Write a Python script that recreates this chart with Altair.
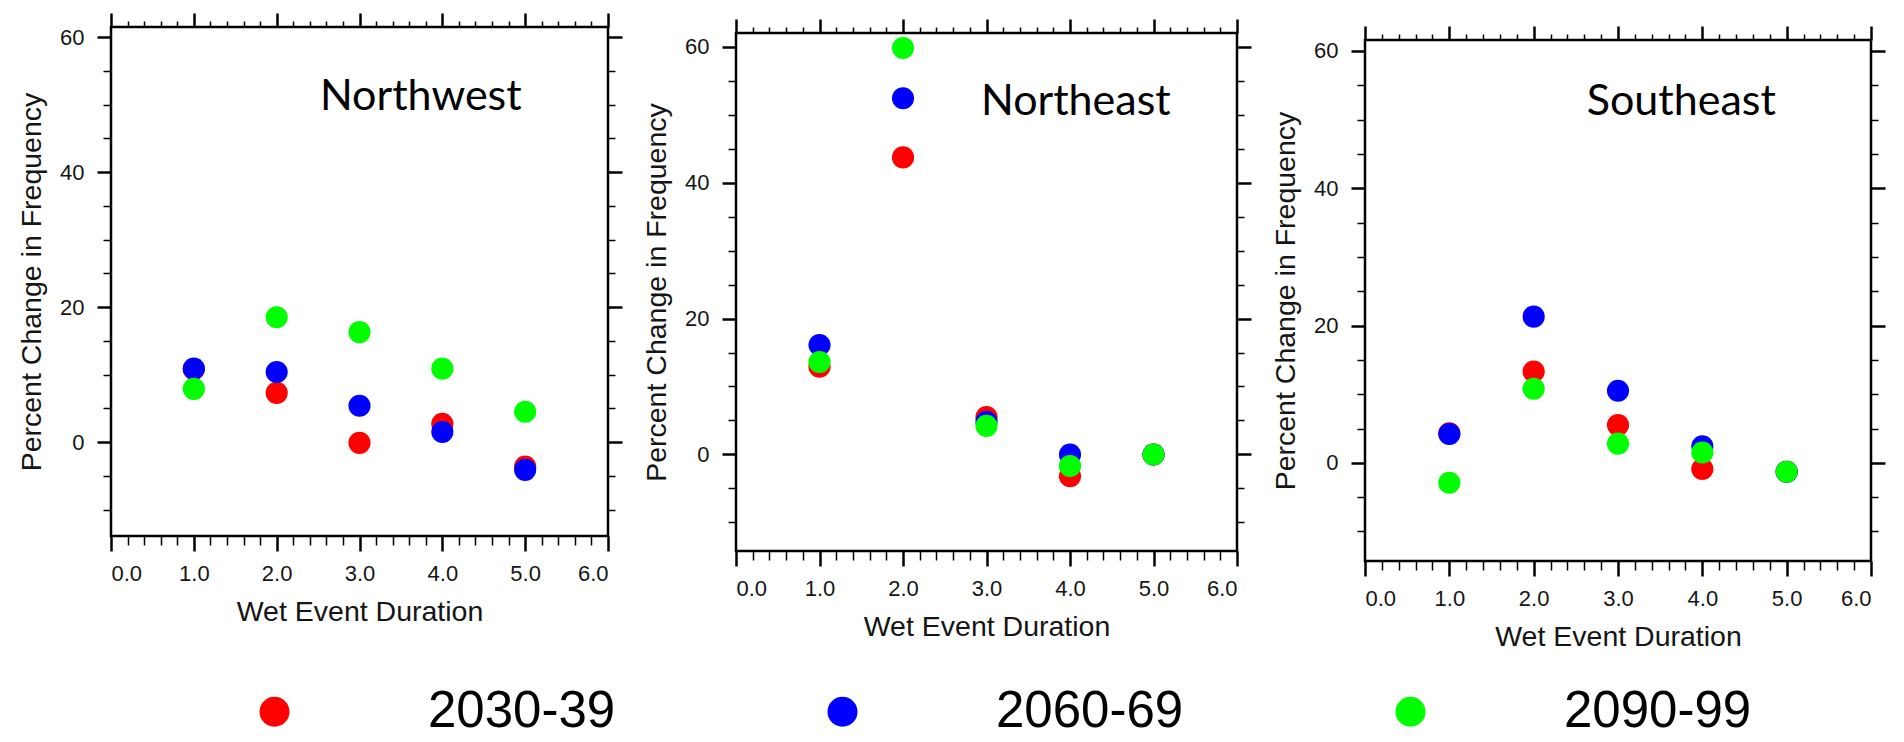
import altair as alt
import pandas as pd

# ---------------- data ----------------
regions = ["Northwest", "Northeast", "Southeast"]
periods = ["2030-39", "2060-69", "2090-99"]
colors = ["#ff0000", "#0000ff", "#00ff00"]
durations = [1.0, 2.0, 3.0, 4.0, 5.0]

nw_2030 = [10.8, 7.3, -0.1, 2.7, -3.6]
nw_2060 = [10.9, 10.4, 5.4, 1.5, -4.1]
nw_2090 = [7.9, 18.5, 16.3, 10.9, 4.5]

ne_2030 = [12.9, 43.7, 5.5, -3.2, 0.0]
ne_2060 = [16.1, 52.4, 4.8, 0.0, 0.0]
ne_2090 = [13.6, 59.8, 4.2, -1.7, 0.0]

se_2030 = [4.3, 13.3, 5.5, -0.9, -1.3]
se_2060 = [4.2, 21.3, 10.5, 2.4, -1.3]
se_2090 = [-2.9, 10.8, 2.8, 1.5, -1.3]

series = {
    "Northwest": [nw_2030, nw_2060, nw_2090],
    "Northeast": [ne_2030, ne_2060, ne_2090],
    "Southeast": [se_2030, se_2060, se_2090],
}

# region label positions (data units)
label_x = [3.74, 4.07, 3.75]
label_y = [51.1, 51.9, 52.5]

# axis ranges and ticks
x_domain = [0, 6]
y_domains = [[-13.9, 61.5], [-14.2, 62.0], [-14.3, 61.6]]
x_major = [0, 1, 2, 3, 4, 5, 6]
x_minor = [0.2, 0.4, 0.6, 0.8, 1.2, 1.4, 1.6, 1.8, 2.2, 2.4, 2.6, 2.8,
           3.2, 3.4, 3.6, 3.8, 4.2, 4.4, 4.6, 4.8, 5.2, 5.4, 5.6, 5.8]
y_major = [0, 20, 40, 60]
y_minor = [-10, -5, 5, 10, 15, 25, 30, 35, 45, 50, 55]

# ---------------- build table ----------------
rows = []
for reg in regions:
    for k, (per, vals) in enumerate(zip(periods, series[reg])):
        for dur, v in zip(durations, vals):
            rows.append({"region": reg, "period": per, "k": k, "dur": dur, "val": v})
df = pd.DataFrame(rows)

FONT = "Liberation Sans"
TXT = "#151515"
panel_w = [497, 501, 506]
panel_h = [509, 518, 521]
top_shift = [0, 6, 13]


def panel(i):
    reg = regions[i]
    d = df[df.region == reg]
    xs = alt.Scale(domain=x_domain, nice=False, zero=False)
    ys = alt.Scale(domain=y_domains[i], nice=False, zero=False)
    base = alt.Chart(d)

    pts = base.mark_circle(size=490, opacity=1).encode(
        x=alt.X("dur:Q", scale=xs, axis=alt.Axis(
            orient="bottom", values=x_major, format=".1f", tickSize=15, tickWidth=2.5,
            labelPadding=12, labelFontSize=22, title="Wet Event Duration",
            titleFontSize=28.5, titlePadding=13)),
        y=alt.Y("val:Q", scale=ys, axis=alt.Axis(
            orient="left", values=y_major, format="d", tickSize=14, tickWidth=2.5,
            labelPadding=13, labelFontSize=22, title="Percent Change in Frequency",
            titleFontSize=28.5, titlePadding=13)),
        color=alt.Color("period:N", scale=alt.Scale(domain=periods, range=colors),
                        legend=alt.Legend(title=None)),
        order=alt.Order("k:Q"),
    )

    major2 = base.mark_circle(opacity=0).encode(
        x=alt.X("dur:Q", scale=xs, axis=alt.Axis(
            orient="top", values=x_major, tickSize=14, tickWidth=2.5,
            labels=False, title=None)),
        y=alt.Y("val:Q", scale=ys, axis=alt.Axis(
            orient="right", values=y_major, tickSize=14, tickWidth=2.5,
            labels=False, title=None)),
    )
    minor1 = base.mark_circle(opacity=0).encode(
        x=alt.X("dur:Q", scale=xs, axis=alt.Axis(
            orient="bottom", values=x_minor, tickSize=9, tickWidth=1.5,
            labels=False, title=None)),
        y=alt.Y("val:Q", scale=ys, axis=alt.Axis(
            orient="left", values=y_minor, tickSize=8, tickWidth=1.5,
            labels=False, title=None)),
    )
    minor2 = base.mark_circle(opacity=0).encode(
        x=alt.X("dur:Q", scale=xs, axis=alt.Axis(
            orient="top", values=x_minor, tickSize=6, tickWidth=1.5,
            labels=False, title=None)),
        y=alt.Y("val:Q", scale=ys, axis=alt.Axis(
            orient="right", values=y_minor, tickSize=7, tickWidth=1.5,
            labels=False, title=None)),
    )
    lab = alt.Chart(pd.DataFrame({"x": [label_x[i]], "y": [label_y[i]], "t": [reg]})).mark_text(
        font="Lato", fontSize=43, align="center", baseline="middle", color="black"
    ).encode(
        x=alt.X("x:Q", scale=xs, axis=None),
        y=alt.Y("y:Q", scale=ys, axis=None),
        text="t:N",
    )
    body = alt.layer(minor1, minor2, major2, pts, lab).resolve_axis(
        x="independent", y="independent"
    ).properties(width=panel_w[i], height=panel_h[i])
    if top_shift[i] == 0:
        return body
    spacer = alt.Chart(pd.DataFrame({"a": [0]})).mark_point(opacity=0).encode(
        x=alt.value(0), y=alt.value(0)
    ).properties(width=panel_w[i], height=1,
                 view=alt.ViewBackground(strokeOpacity=0, fillOpacity=0))
    return alt.vconcat(spacer, body, spacing=top_shift[i] - 1, bounds="flush")


chart = alt.hconcat(panel(0), panel(1), panel(2), spacing=16).properties(
    padding={"left": 16, "top": 10, "right": 5, "bottom": 0}
).configure_view(
    stroke="black", strokeWidth=2.5
).configure_axis(
    domain=False, grid=False, tickColor="black", labelFont=FONT, labelColor=TXT,
    titleFont=FONT, titleFontWeight="normal", titleColor=TXT
).configure_legend(
    orient="none", legendX=138, legendY=659, direction="horizontal",
    symbolSize=900, symbolType="circle", symbolStrokeWidth=0, symbolOpacity=1,
    labelFont=FONT, labelFontSize=51, labelColor="black", labelOffset=128,
    columnPadding=201, labelLimit=400
)

chart.save("out.html", embed_options={"renderer": "svg", "actions": False})
